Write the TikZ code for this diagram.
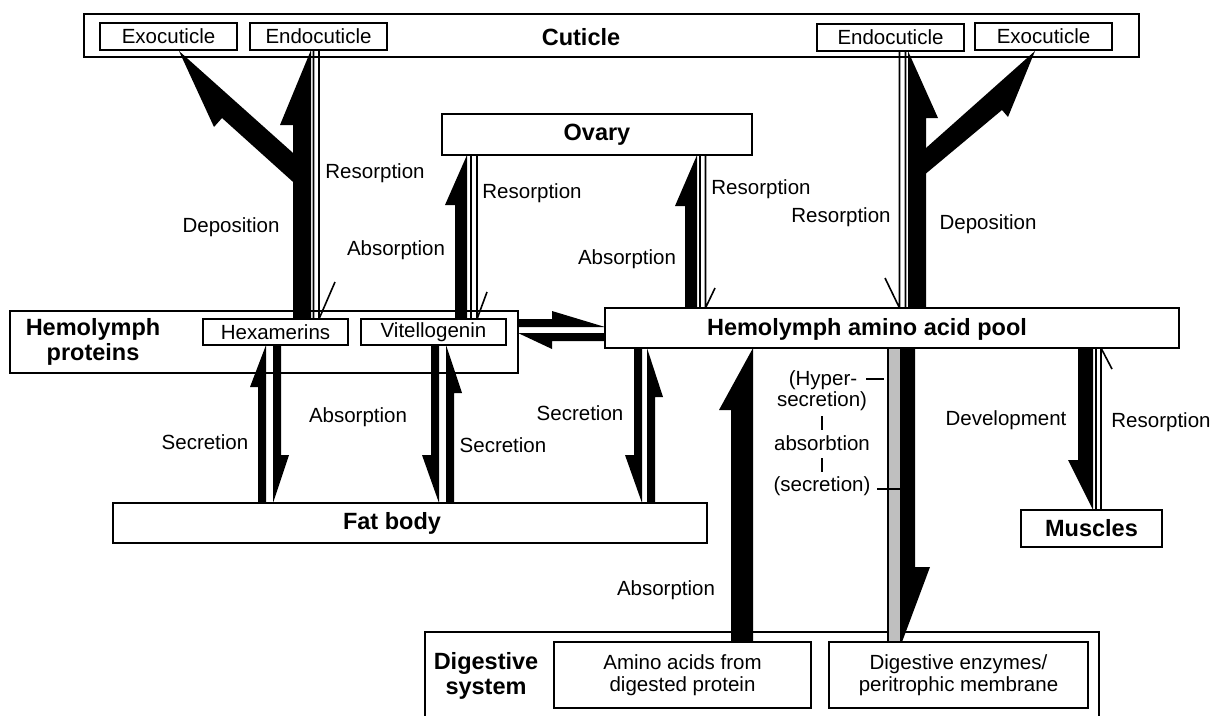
\documentclass[tikz,border=0pt]{standalone}
\usepackage{fontspec}
\setmainfont{Liberation Sans}
\begin{document}
\begin{tikzpicture}[x=1pt,y=-1pt,
  box/.style={draw, line width=1.5pt, fill=white, inner sep=0pt, outer sep=0pt},
  lab/.style={font=\fontsize{20.5}{22}\selectfont, inner sep=0pt, align=center},
  blab/.style={font=\bfseries\fontsize{23.5}{25.5}\selectfont, inner sep=0pt, align=center},
  blk/.style={fill=black, draw=none},
  res/.style={line width=1.6pt},
  tick/.style={line width=1.3pt}]
\useasboundingbox (0,0) rectangle (1215,715);

% ---------- boxes ----------
\node[box, minimum width=1055pt, minimum height=43pt] (cut) at (611.5,35.5) {};
\node[blab] (cuttxt) at (581,37) {Cuticle};
\node[box, lab, minimum width=137pt, minimum height=27pt] (exoL) at (168.5,36.5) {Exocuticle};
\node[box, lab, minimum width=137pt, minimum height=27pt] (endoL) at (318.5,36.5) {Endocuticle};
\node[box, lab, minimum width=147pt, minimum height=27pt] (endoR) at (890.5,37.5) {Endocuticle};
\node[box, lab, minimum width=137pt, minimum height=27pt] (exoR) at (1043.5,36.5) {Exocuticle};

\node[box, blab, minimum width=310pt, minimum height=41pt] (ovary) at (597,134.5) {Ovary};

\node[box, minimum width=508pt, minimum height=62pt] (hp) at (264,342) {};
\node[blab] (hptxt) at (93,342) {Hemolymph\\proteins};
\node[box, lab, minimum width=145pt, minimum height=26pt] (hex) at (275.5,332) {Hexamerins};
\node[box, lab, minimum width=145pt, minimum height=26pt] (vit) at (433.5,332) {Vitellogenin};

\node[box, minimum width=574pt, minimum height=40pt] (pool) at (892,328) {};
\node[blab] (pooltxt) at (867,329) {Hemolymph amino acid pool};

\node[box, minimum width=594pt, minimum height=40pt] (fat) at (410,523) {};
\node[blab] (fattxt) at (392,523) {Fat body};

\node[box, blab, minimum width=141pt, minimum height=37pt] (mus) at (1091.5,528.5) {Muscles};

\draw[line width=1.5pt] (425,716) -- (425,632) -- (1099,632) -- (1099,716);
\node[blab] (digtxt) at (486,676) {Digestive\\system};
\node[box, lab, minimum width=257pt, minimum height=66pt] (amino) at (682.5,675) {Amino acids from\\digested protein};
\node[box, lab, minimum width=259pt, minimum height=66pt] (enz) at (958.5,675) {Digestive enzymes/\\peritrophic membrane};

% ---------- black harpoon arrows ----------
% left deposition (to endocuticle) + branch to exocuticle
\fill[blk] (293,319) -- (293,125) -- (280,125) -- (311,50) -- (311,319) -- cycle;
\fill[blk] (302,161) -- (179,51) -- (214,127) -- (222,118) -- (302,190) -- cycle;
% right deposition
\fill[blk] (926,308) -- (926,118) -- (938,118) -- (908,51) -- (908,308) -- cycle;
\fill[blk] (917,156) -- (1035,51) -- (1008,117) -- (1002,110) -- (917,181) -- cycle;
% vitellogenin -> ovary
\fill[blk] (455,319) -- (455,205) -- (445,205) -- (467,155) -- (467,319) -- cycle;
% pool -> ovary
\fill[blk] (685,308) -- (685,206) -- (675,206) -- (697,155) -- (697,308) -- cycle;
% fat body -> hexamerins
\fill[blk] (258,503) -- (258,387) -- (250,387) -- (266,345) -- (266,503) -- cycle;
% hexamerins -> fat body
\fill[blk] (281,345) -- (281,455) -- (289,455) -- (273,503) -- (273,345) -- cycle;
% vitellogenin -> fat body
\fill[blk] (431,345) -- (431,455) -- (422,455) -- (439,503) -- (439,345) -- cycle;
% fat body -> vitellogenin
\fill[blk] (454,503) -- (454,393) -- (462,393) -- (446,345) -- (446,503) -- cycle;
% pool -> fat body
\fill[blk] (634,348) -- (634,455) -- (625,455) -- (642,503) -- (642,348) -- cycle;
% fat body -> pool
\fill[blk] (655,503) -- (655,397) -- (663,397) -- (647,348) -- (647,503) -- cycle;
% digestive -> pool
\fill[blk] (731,642) -- (731,410) -- (719,410) -- (753,348) -- (753,642) -- cycle;
% pool -> digestive enzymes
\draw[line width=1.2pt, fill=black!25] (888,348) rectangle (901,642);
\fill[blk] (915,348) -- (915,567) -- (930,567) -- (902,642) -- (902,348) -- cycle;
% pool -> muscles
\fill[blk] (1078,348) -- (1078,460) -- (1068,460) -- (1093,510) -- (1093,348) -- cycle;
% horizontal pair
\fill[blk] (518,319) -- (552,319) -- (552,311) -- (605,327) -- (518,327) -- cycle;
\fill[blk] (605,341) -- (552,341) -- (552,349) -- (518,333) -- (605,333) -- cycle;

% ---------- resorption (open) arrows ----------
\draw[res] (313.5,50) -- (313.5,319) (319,50) -- (319,319) (319,319) -- (335,282);
\draw[res] (471,155) -- (471,319) (477,155) -- (477,319) (477,319) -- (487,292);
\draw[res] (700,155) -- (700,308) (705.5,155) -- (705.5,308) (705.5,308) -- (715,288);
\draw[res] (899.5,51) -- (899.5,308) (905.5,51) -- (905.5,308) (899.5,308) -- (885,278);
\draw[res] (1096,348) -- (1096,510) (1101,348) -- (1101,510) (1101,348) -- (1112,369);

% ---------- labels ----------
\node[lab] (l1) at (231,227) {Deposition};
\node[lab] (l2) at (375,173) {Resorption};
\node[lab] (l3) at (396,250) {Absorption};
\node[lab] (l4) at (532,193) {Resorption};
\node[lab] (l5) at (627,259) {Absorption};
\node[lab] (l6) at (761,189) {Resorption};
\node[lab] (l7) at (841,217) {Resorption};
\node[lab] (l8) at (988,224) {Deposition};
\node[lab] (l9) at (205,442) {Secretion};
\node[lab] (l10) at (358,417) {Absorption};
\node[lab] (l11) at (503,445) {Secretion};
\node[lab] (l12) at (580,413) {Secretion};
\node[lab] (l13) at (666,590) {Absorption};
\node[lab] (l14) at (1006,420) {Development};
\node[lab] (l15) at (1161,422) {Resorption};

\node[lab] (g1) at (823,380) {(Hyper-};
\node[lab] (g2) at (822,401) {secretion)};
\node[lab] (g3) at (822,443) {absorbtion};
\node[lab] (g4) at (822,486) {(secretion)};
\draw[tick] (866,379) -- (884,379);
\draw[tick] (877,489) -- (901,489);
\draw[line width=2.2pt] (822,416) -- (822,430);
\draw[line width=2.2pt] (822,458) -- (822,472);
\end{tikzpicture}
\end{document}
